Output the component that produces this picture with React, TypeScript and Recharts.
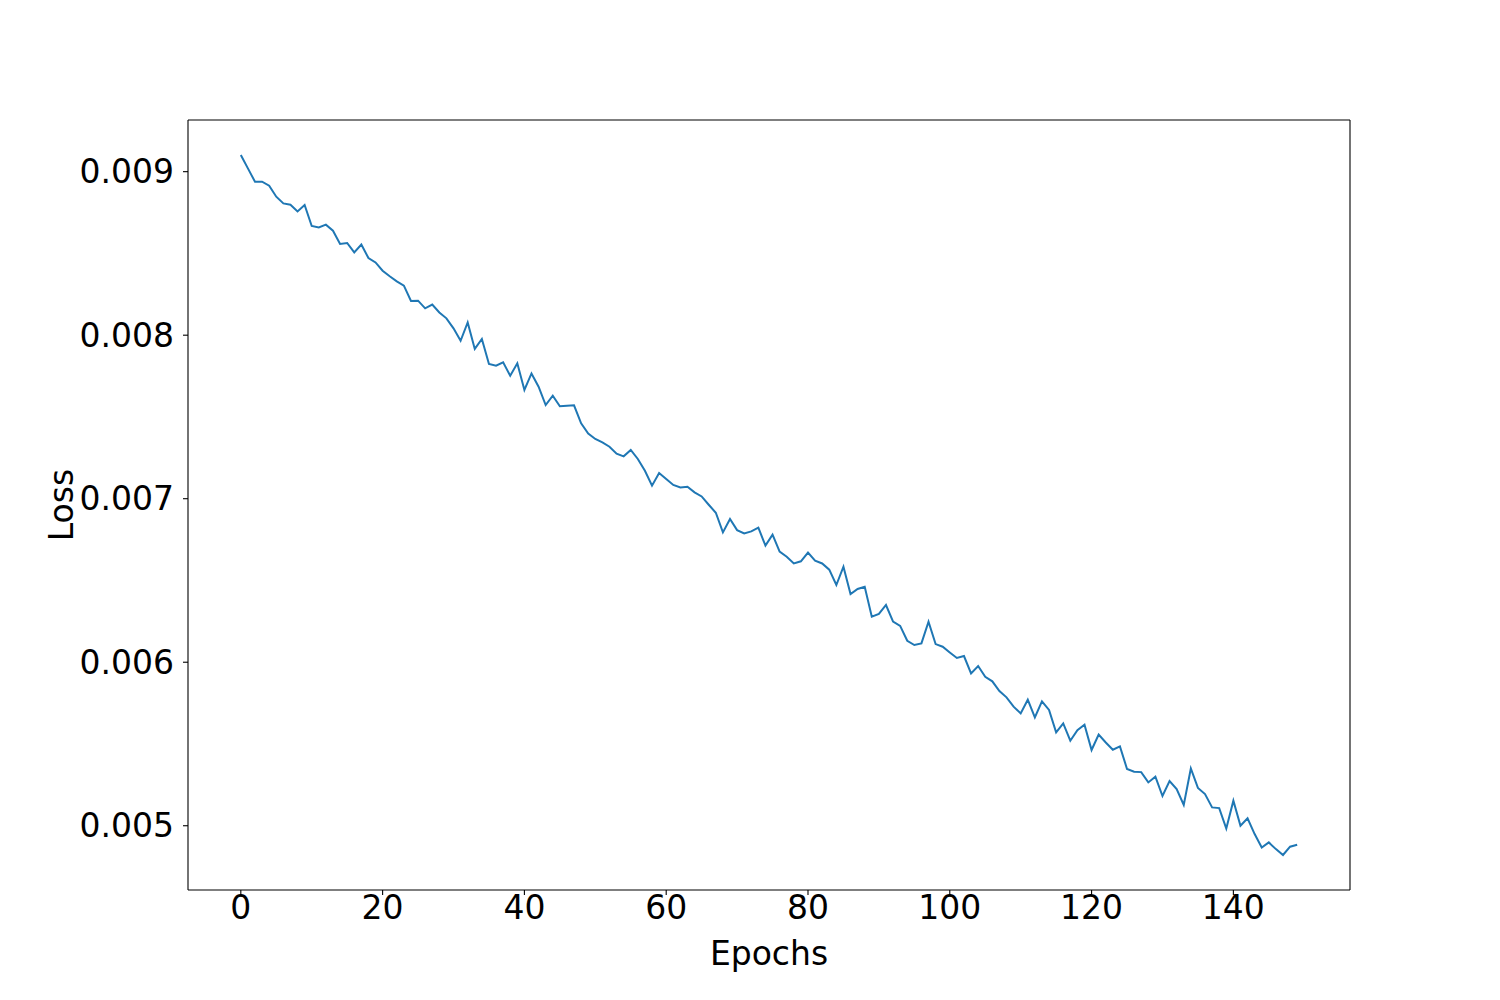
import React from 'react';
import { LineChart, Line, XAxis, YAxis, ReferenceLine } from 'recharts';

const lossValues: number[] = [
  0.009102, 0.009020, 0.008939, 0.008939, 0.008914, 0.008847, 0.008806, 0.008798, 0.008757, 0.008796,
  0.008668, 0.008659, 0.008676, 0.008639, 0.008558, 0.008564, 0.008506, 0.008554, 0.008472, 0.008445,
  0.008394, 0.008360, 0.008329, 0.008303, 0.008209, 0.008211, 0.008164, 0.008187, 0.008139, 0.008103,
  0.008042, 0.007966, 0.008078, 0.007916, 0.007977, 0.007824, 0.007813, 0.007834, 0.007752, 0.007828,
  0.007665, 0.007766, 0.007685, 0.007573, 0.007630, 0.007565, 0.007569, 0.007571, 0.007461, 0.007399,
  0.007365, 0.007344, 0.007318, 0.007275, 0.007259, 0.007298, 0.007243, 0.007171, 0.007080, 0.007157,
  0.007120, 0.007084, 0.007069, 0.007073, 0.007039, 0.007014, 0.006963, 0.006914, 0.006794, 0.006876,
  0.006808, 0.006788, 0.006800, 0.006823, 0.006713, 0.006780, 0.006676, 0.006645, 0.006604, 0.006617,
  0.006670, 0.006621, 0.006604, 0.006566, 0.006472, 0.006584, 0.006417, 0.006448, 0.006462, 0.006278,
  0.006295, 0.006350, 0.006248, 0.006222, 0.006131, 0.006105, 0.006115, 0.006248, 0.006111, 0.006095,
  0.006060, 0.006026, 0.006038, 0.005932, 0.005977, 0.005911, 0.005883, 0.005824, 0.005785, 0.005728,
  0.005687, 0.005771, 0.005662, 0.005760, 0.005708, 0.005571, 0.005626, 0.005520, 0.005585, 0.005618,
  0.005463, 0.005557, 0.005509, 0.005465, 0.005485, 0.005347, 0.005330, 0.005328, 0.005265, 0.005300,
  0.005182, 0.005273, 0.005224, 0.005127, 0.005350, 0.005231, 0.005194, 0.005112, 0.005108, 0.004983,
  0.005153, 0.005000, 0.005045, 0.004949, 0.004867, 0.004898, 0.004857, 0.004821, 0.004872, 0.004884,
];

const xTicks: number[] = [0, 20, 40, 60, 80, 100, 120, 140];
const yTicks: number[] = [0.005, 0.006, 0.007, 0.008, 0.009];
const xDomain: [number, number] = [-7.45, 156.45];
const yDomain: [number, number] = [0.004607, 0.009316];

const data = lossValues.map((loss, epoch) => ({ epoch, loss }));

const FONT = 'DejaVu Sans';
const FS = 33;

const XLabel = (props: any) => {
  const vb = props.viewBox || {};
  return (
    <text x={vb.x + vb.width / 2} y={965} textAnchor="middle" fontFamily={FONT} fontSize={FS} fill="#000">
      Epochs
    </text>
  );
};

const YLabel = (props: any) => {
  const vb = props.viewBox || {};
  const cy = vb.y + vb.height / 2;
  return (
    <text x={0} y={0} transform={`translate(73,${cy}) rotate(-90)`} textAnchor="middle" fontFamily={FONT} fontSize={FS} fill="#000">
      Loss
    </text>
  );
};

export default function App() {
  return (
    <div style={{ position: 'absolute', left: 0, top: 0, width: 1500, height: 1000, background: '#fff' }}>
      <LineChart width={1500} height={1000} data={data} margin={{ top: 120, right: 150, bottom: 50, left: 88 }}>
        <XAxis
          dataKey="epoch"
          type="number"
          domain={xDomain}
          ticks={xTicks}
          allowDataOverflow
          height={60}
          tickSize={5}
          tickMargin={1}
          axisLine={{ stroke: '#000', strokeWidth: 1.1 }}
          tickLine={{ stroke: '#000', strokeWidth: 1.1 }}
          tick={{ fill: '#000', fontSize: FS, fontFamily: FONT }}
          label={<XLabel />}
        />
        <YAxis
          type="number"
          domain={yDomain}
          ticks={yTicks}
          allowDataOverflow
          width={100}
          tickSize={5}
          tickMargin={9}
          tickFormatter={(v: number) => v.toFixed(3)}
          axisLine={{ stroke: '#000', strokeWidth: 1.1 }}
          tickLine={{ stroke: '#000', strokeWidth: 1.1 }}
          tick={{ fill: '#000', fontSize: FS, fontFamily: FONT }}
          label={<YLabel />}
        />
        <ReferenceLine y={yDomain[1]} stroke="#000" strokeWidth={1.1} />
        <ReferenceLine x={xDomain[1]} stroke="#000" strokeWidth={1.1} />
        <Line
          type="linear"
          dataKey="loss"
          stroke="#1f77b4"
          strokeWidth={2}
          dot={false}
          isAnimationActive={false}
        />
      </LineChart>
    </div>
  );
}
